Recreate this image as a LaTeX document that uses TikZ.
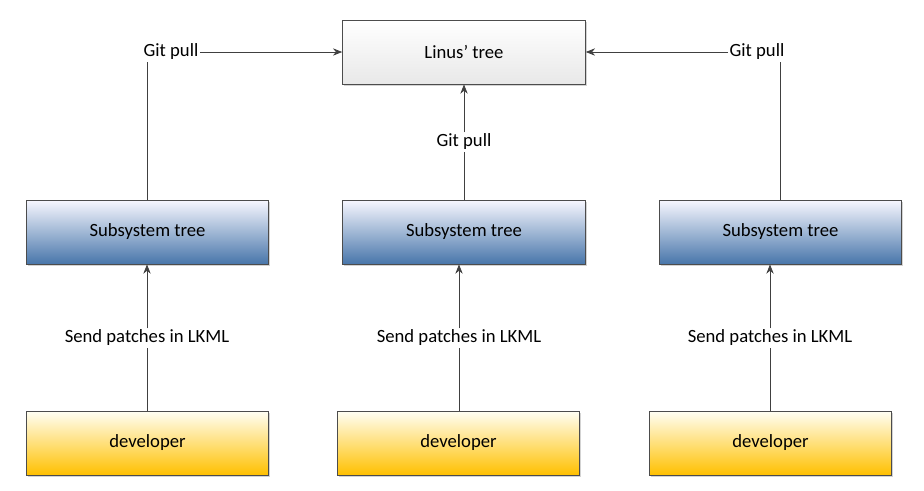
\documentclass[tikz,border=0pt]{standalone}
\usepackage{fontspec}
\setmainfont{Carlito}
\usetikzlibrary{arrows.meta,shadows}

\tikzset{
  treebox/.style={draw=black!70, line width=0.6pt, minimum width=182pt, minimum height=48pt,
    font=\fontsize{14}{17}\selectfont, drop shadow={shadow xshift=1.2pt, shadow yshift=-1.2pt, opacity=0.35}},
  linusbox/.style={treebox, top color=white, bottom color=black!9},
  subsysbox/.style={treebox, top color=blue!3!white, bottom color=subsysblue},
  devbox/.style={treebox, top color=yellow!4!white, bottom color=devyellow},
  lbl/.style={font=\fontsize{14}{17}\selectfont, inner sep=1pt, fill=white},
  conn/.style={draw=black!75, line width=0.6pt},
  flow/.style={conn, -{Stealth[length=7pt, width=5.5pt]}},
}
\definecolor{subsysblue}{RGB}{72,118,170}
\definecolor{devyellow}{RGB}{255,192,0}

\begin{document}
\begin{tikzpicture}[x=0.75pt, y=-0.75pt]
  \useasboundingbox (0,0) rectangle (924,490);

  % Top of the hierarchy
  \node[linusbox] (linus) at (464,52) {Linus’ tree};

  % Subsystem trees
  \node[subsysbox] (subA) at (147.5,232) {Subsystem tree};
  \node[subsysbox] (subB) at (464,232) {Subsystem tree};
  \node[subsysbox] (subC) at (780.5,232) {Subsystem tree};

  % Developers
  \node[devbox] (devA) at (147.5,443) {developer};
  \node[devbox] (devB) at (458.5,443) {developer};
  \node[devbox] (devC) at (770.5,443) {developer};

  % Labels
  \node[lbl] (pullA) at (171,52) {Git pull};
  \node[lbl] (pullB) at (464,142) {Git pull};
  \node[lbl] (pullC) at (757,52) {Git pull};
  \node[lbl] (sendA) at (147,338) {Send patches in LKML};
  \node[lbl] (sendB) at (459,338) {Send patches in LKML};
  \node[lbl] (sendC) at (770,338) {Send patches in LKML};

  % Git pull connectors
  \draw[conn] (subA.north -| 147,0) -- (147,0 |- pullA.south);
  \draw[flow] (pullA.east) -- (linus.west);
  \draw[conn] (subB.north) -- (pullB.south);
  \draw[flow] (pullB.north) -- (linus.south);
  \draw[conn] (subC.north) -- (subC.north |- pullC.south);
  \draw[flow] (pullC.west) -- (linus.east);

  % Patch connectors
  \draw[conn] (devA.north -| sendA) -- (sendA.south);
  \draw[flow] (sendA.north) -- (sendA |- subA.south);
  \draw[conn] (devB.north -| sendB) -- (sendB.south);
  \draw[flow] (sendB.north) -- (sendB |- subB.south);
  \draw[conn] (devC.north -| sendC) -- (sendC.south);
  \draw[flow] (sendC.north) -- (sendC |- subC.south);
\end{tikzpicture}
\end{document}
